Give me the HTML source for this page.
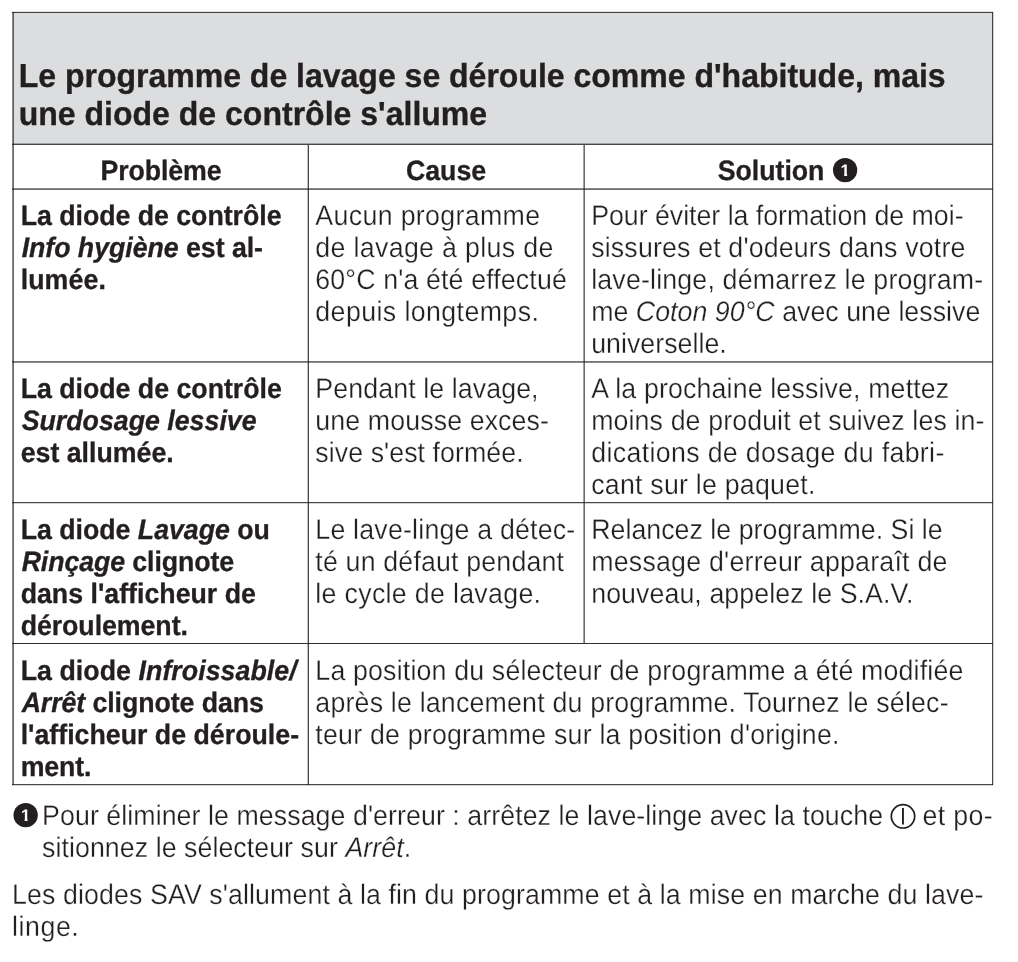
<!DOCTYPE html>
<html lang="fr">
<head>
<meta charset="utf-8">
<title>Diodes de contrôle</title>
<style>
*{margin:0;padding:0;box-sizing:border-box}
html,body{width:1018px;height:962px;background:#fff;overflow:hidden}
body{position:relative;font-family:"Liberation Sans",sans-serif;color:#231f20;text-rendering:geometricPrecision;-webkit-font-smoothing:antialiased}
svg.g{position:absolute;left:0;top:0;width:1018px;height:962px}
table.tb{border-collapse:collapse;border:0;width:0;height:0}
th,td,caption{padding:0;border:0;font-weight:normal}
.l{position:absolute;white-space:nowrap;filter:blur(0.4px);height:32px;line-height:32px;font-size:26.75px;transform-origin:0 25.27px}
.t{font-size:32.03px;font-weight:bold;height:38px;line-height:38px;transform-origin:0 30.10px;transform:scaleY(1.04);-webkit-text-stroke:0.35px #231f20}
.b{font-weight:bold;transform:scaleY(1.045);-webkit-text-stroke:0.3px #231f20}
.r{font-weight:normal;transform:scaleY(1.055);-webkit-text-stroke:0.25px #fff}
.n{position:absolute;display:block;width:0.556em;height:1em;line-height:1em;font-size:16.7px;font-weight:bold;color:#fff;clip-path:polygon(0 0,100% 0,100% 11px,6.5px 11px,6.5px 100%,3.6px 100%,3.6px 11px,0 11px)}
</style>
</head>
<body>
<svg class="g" viewBox="0 0 1018 962"><rect x="13" y="12" width="980" height="132" fill="#dcddde"/><g fill="#231f20" shape-rendering="crispEdges"><rect x="12" y="11" width="981" height="1" fill-opacity="0.15"/><rect x="12" y="12" width="981" height="1" fill-opacity="0.82"/><rect x="12" y="143" width="981" height="1" fill-opacity="0.32"/><rect x="12" y="144" width="981" height="1" fill-opacity="0.82"/><rect x="12" y="188" width="981" height="1" fill-opacity="0.53"/><rect x="12" y="189" width="981" height="1" fill-opacity="0.65"/><rect x="12" y="361" width="981" height="1" fill-opacity="0.62"/><rect x="12" y="362" width="981" height="1" fill-opacity="0.53"/><rect x="12" y="502" width="981" height="1" fill-opacity="0.82"/><rect x="12" y="503" width="981" height="1" fill-opacity="0.2"/><rect x="12" y="643" width="981" height="1" fill-opacity="0.93"/><rect x="12" y="784" width="981" height="1" fill-opacity="0.82"/><rect x="12" y="785" width="981" height="1" fill-opacity="0.2"/><rect x="12" y="12" width="1" height="773" fill-opacity="0.53"/><rect x="13" y="12" width="1" height="773" fill-opacity="0.66"/><rect x="992" y="12" width="1" height="773" fill-opacity="0.82"/><rect x="993" y="12" width="1" height="773" fill-opacity="0.2"/><rect x="307" y="145" width="1" height="640" fill-opacity="0.29"/><rect x="308" y="145" width="1" height="640" fill-opacity="0.81"/><rect x="583" y="145" width="1" height="498" fill-opacity="0.41"/><rect x="584" y="145" width="1" height="498" fill-opacity="0.66"/></g><circle cx="845.1" cy="170.1" r="12.15" fill="#231f20"/><circle cx="25.65" cy="815.15" r="12.15" fill="#231f20"/><circle cx="903.0" cy="816.3" r="11.7" fill="none" stroke="#231f20" stroke-width="1.7"/><line x1="902.95" y1="808.0" x2="902.95" y2="824.6" stroke="#231f20" stroke-width="1.9"/></svg>
<main>
<table class="tb">
<caption><span class="l t" style="left:18.70px;top:56.90px;letter-spacing:-0.009px">Le programme de lavage se déroule comme d'habitude, mais</span> <span class="l t" style="left:18.70px;top:94.90px;letter-spacing:0.003px">une diode de contrôle s'allume</span></caption>
<thead><tr><th><span class="l b" style="left:100.40px;top:154.73px;letter-spacing:-0.090px">Problème</span></th><th><span class="l b" style="left:406.05px;top:154.73px;letter-spacing:-0.067px">Cause</span></th><th><span class="l b" style="left:717.70px;top:154.73px;letter-spacing:-0.034px">Solution</span> <span class="n" style="left:840.60px;top:163.00px">1</span></th></tr></thead>
<tbody>
<tr><th><span class="l b" style="left:20.65px;top:199.73px;letter-spacing:-0.035px">La diode de contrôle</span> <span class="l b" style="left:21.65px;top:231.73px;letter-spacing:-0.048px"><i>Info hygiène</i> est al-</span> <span class="l b" style="left:20.65px;top:263.73px;letter-spacing:0.096px">lumée.</span></th><td><span class="l r" style="left:315.35px;top:199.73px;letter-spacing:0.337px">Aucun programme</span> <span class="l r" style="left:315.35px;top:231.73px;letter-spacing:0.330px">de lavage à plus de</span> <span class="l r" style="left:315.35px;top:263.73px;letter-spacing:0.133px">60°C n'a été effectué</span> <span class="l r" style="left:315.35px;top:295.73px;letter-spacing:0.399px">depuis longtemps.</span></td><td><span class="l r" style="left:591.20px;top:199.73px;letter-spacing:-0.026px">Pour éviter la formation de moi-</span> <span class="l r" style="left:591.20px;top:231.73px;letter-spacing:0.158px">sissures et d'odeurs dans votre</span> <span class="l r" style="left:591.20px;top:263.73px;letter-spacing:0.172px">lave-linge, démarrez le program-</span> <span class="l r" style="left:591.20px;top:295.73px;letter-spacing:0.025px">me <i>Coton 90°C</i> avec une lessive</span> <span class="l r" style="left:591.20px;top:327.73px;letter-spacing:0.027px">universelle.</span></td></tr>
<tr><th><span class="l b" style="left:20.65px;top:372.73px;letter-spacing:-0.020px">La diode de contrôle</span> <span class="l b" style="left:21.65px;top:404.73px;letter-spacing:0.000px"><i>Surdosage lessive</i></span> <span class="l b" style="left:20.65px;top:436.73px;letter-spacing:-0.007px">est allumée.</span></th><td><span class="l r" style="left:315.35px;top:372.73px;letter-spacing:0.094px">Pendant le lavage,</span> <span class="l r" style="left:315.35px;top:404.73px;letter-spacing:0.105px">une mousse exces-</span> <span class="l r" style="left:315.35px;top:436.73px;letter-spacing:0.059px">sive s'est formée.</span></td><td><span class="l r" style="left:591.20px;top:372.73px;letter-spacing:0.142px">A la prochaine lessive, mettez</span> <span class="l r" style="left:591.20px;top:404.73px;letter-spacing:0.110px">moins de produit et suivez les in-</span> <span class="l r" style="left:591.20px;top:436.73px;letter-spacing:0.343px">dications de dosage du fabri-</span> <span class="l r" style="left:591.20px;top:468.73px;letter-spacing:0.226px">cant sur le paquet.</span></td></tr>
<tr><th><span class="l b" style="left:20.65px;top:513.73px;letter-spacing:-0.026px">La diode <i>Lavage</i> ou</span> <span class="l b" style="left:21.65px;top:545.73px;letter-spacing:-0.101px"><i>Rinçage</i> clignote</span> <span class="l b" style="left:20.65px;top:577.73px;letter-spacing:0.001px">dans l'afficheur de</span> <span class="l b" style="left:20.65px;top:609.73px;letter-spacing:-0.062px">déroulement.</span></th><td><span class="l r" style="left:315.35px;top:513.73px;letter-spacing:0.198px">Le lave-linge a détec-</span> <span class="l r" style="left:315.35px;top:545.73px;letter-spacing:0.169px">té un défaut pendant</span> <span class="l r" style="left:315.35px;top:577.73px;letter-spacing:0.312px">le cycle de lavage.</span></td><td><span class="l r" style="left:591.20px;top:513.73px;letter-spacing:0.024px">Relancez le programme. Si le</span> <span class="l r" style="left:591.20px;top:545.73px;letter-spacing:0.227px">message d'erreur apparaît de</span> <span class="l r" style="left:591.20px;top:577.73px;letter-spacing:0.078px">nouveau, appelez le S.A.V.</span></td></tr>
<tr><th><span class="l b" style="left:20.65px;top:654.73px;letter-spacing:0.050px">La diode <i>Infroissable/</i></span> <span class="l b" style="left:21.65px;top:686.73px;letter-spacing:-0.089px"><i>Arrêt</i> clignote dans</span> <span class="l b" style="left:20.65px;top:718.73px;letter-spacing:0.003px">l'afficheur de déroule-</span> <span class="l b" style="left:20.65px;top:750.73px;letter-spacing:-0.152px">ment.</span></th><td colspan="2"><span class="l r" style="left:315.35px;top:654.73px;letter-spacing:0.168px">La position du sélecteur de programme a été modifiée</span> <span class="l r" style="left:315.35px;top:686.73px;letter-spacing:0.189px">après le lancement du programme. Tournez le sélec-</span> <span class="l r" style="left:315.35px;top:718.73px;letter-spacing:0.208px">teur de programme sur la position d'origine.</span></td></tr>
</tbody>
</table>
<p><span class="n" style="left:21.05px;top:808.00px">1</span> <span class="l r" style="left:42.10px;top:799.73px;letter-spacing:0.066px">Pour éliminer le message d'erreur : arrêtez le lave-linge avec la touche</span> <span class="l r" style="left:922.40px;top:799.73px;letter-spacing:0.390px">et po-</span> <span class="l r" style="left:42.10px;top:831.73px;letter-spacing:0.054px">sitionnez le sélecteur sur <i>Arrêt</i>.</span></p>
<p><span class="l r" style="left:12.10px;top:878.73px;letter-spacing:0.098px">Les diodes SAV s'allument à la fin du programme et à la mise en marche du lave-</span> <span class="l r" style="left:12.10px;top:910.73px;letter-spacing:0.548px">linge.</span></p>
</main>
</body>
</html>
